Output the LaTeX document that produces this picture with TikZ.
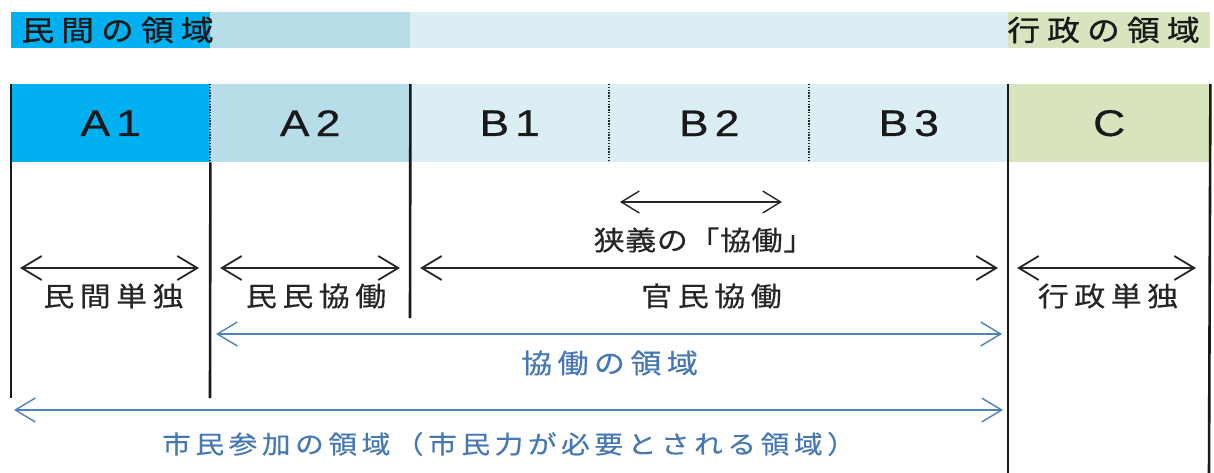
\documentclass[tikz,border=0pt]{standalone}
\usepackage{fontspec}
\setmainfont{Liberation Sans}
\newfontfamily\cellf[FakeStretch=1.2,FakeBold=0.6]{Liberation Sans}
\newfontfamily\jpl[FakeStretch=1.15,LetterSpace=20,FakeBold=0.4]{Noto Sans CJK JP}
\newfontfamily\jpt[FakeStretch=1.15,LetterSpace=25,FakeBold=1]{Noto Sans CJK JP}
\newfontfamily\jpb[FakeStretch=1.15,LetterSpace=18,FakeBold=0.4]{Noto Sans CJK JP}
\newfontfamily\jpn[FakeStretch=1.15,LetterSpace=2,FakeBold=0.4]{Noto Sans CJK JP}
\usetikzlibrary{arrows.meta}
\definecolor{cA}{RGB}{0,176,240}
\definecolor{cAA}{RGB}{183,221,232}
\definecolor{cB}{RGB}{218,238,243}
\definecolor{cC}{RGB}{215,228,189}
\definecolor{lb}{RGB}{79,129,189}
\definecolor{tb}{RGB}{70,120,180}
\tikzset{
  band/.style={draw=none,inner sep=0pt,anchor=north west},
  cell/.style={draw=none,inner sep=0pt,anchor=north west,minimum height=78pt,
     font=\cellf\fontsize{37}{40}\selectfont,text=black!90},
  vline/.style={line width=2.6pt,black!90},
  dotline/.style={line width=2pt,black!85,dash pattern=on 1.4pt off 1.4pt},
  darr/.style={line width=1.8pt,black!85,
     {Straight Barb[length=20pt,width=24pt,line width=1.8pt]}-{Straight Barb[length=20pt,width=24pt,line width=1.8pt]}},
  barr/.style={line width=1.4pt,lb,
     {Straight Barb[length=20pt,width=24pt,line width=1.4pt]}-{Straight Barb[length=20pt,width=24pt,line width=1.4pt]}},
  jlab/.style={font=\jpl\fontsize{27}{30}\selectfont,text=black!85,inner sep=0pt},
  tlab/.style={font=\jpt\fontsize{28.5}{30}\selectfont,text=black!90,inner sep=0pt},
  blab/.style={font=\jpb\fontsize{25}{28}\selectfont,text=tb,inner sep=0pt},
}
\begin{document}
\begin{tikzpicture}[x=1pt,y=-1pt]
\useasboundingbox (0,0) rectangle (1214,473);
% top band
\node[band,fill=cA,minimum width=199pt,minimum height=36pt] (t1) at (11,12) {};
\node[band,fill=cAA,minimum width=200pt,minimum height=36pt] (t2) at (210,12) {};
\node[band,fill=cB,minimum width=598pt,minimum height=36pt] (t3) at (410,12) {};
\node[band,fill=cC,minimum width=202pt,minimum height=36pt] (t4) at (1008,12) {};
\node[tlab] (priv) at (117.5,30) {民間の領域};
\node[tlab] (gov) at (1103.5,30) {行政の領域};
% cells
\node[cell,fill=cA,minimum width=199pt] (A1) at (11,84) {A\,1};
\node[cell,fill=cAA,minimum width=200pt] (A2) at (210,84) {A\,2};
\node[cell,fill=cB,minimum width=199pt] (B1) at (410,84) {B\,1};
\node[cell,fill=cB,minimum width=200pt] (B2) at (609,84) {B\,2};
\node[cell,fill=cB,minimum width=199pt] (B3) at (809,84) {B\,3};
\node[cell,fill=cC,minimum width=202pt] (C) at (1008,84) {C};
% dotted separators
\draw[dotline] (A1.north east) -- (A1.south east);
\draw[dotline] (B1.north east) -- (B1.south east);
\draw[dotline] (B2.north east) -- (B2.south east);
% solid verticals
\coordinate (v0b) at (11,398);
\coordinate (v1b) at (210,398);
\coordinate (v2b) at (410,318);
\coordinate (v3b) at (1008,473);
\coordinate (v4b) at (1209,473);
\draw[vline] (A1.north west) -- (v0b);
\draw[vline] (A1.south east) -- (v1b);
\draw[vline] (A2.north east) -- (v2b);
\draw[vline] (C.north west) -- (v3b);
\draw[vline] (C.north east) -- (v4b);
% black arrows
\coordinate (a1l) at (20,268); \coordinate (a1r) at (199,268);
\coordinate (a2l) at (220,268); \coordinate (a2r) at (400,268);
\coordinate (a3l) at (420,268); \coordinate (a3r) at (998,268);
\coordinate (a4l) at (1017,268); \coordinate (a4r) at (1196,268);
\coordinate (a5l) at (620,202); \coordinate (a5r) at (782,202);
\draw[darr] (a1l) -- (a1r);
\draw[darr] (a2l) -- (a2r);
\draw[darr] (a3l) -- (a3r);
\draw[darr] (a4l) -- (a4r);
\draw[darr,line width=1.4pt,{Straight Barb[length=18pt,width=22pt,line width=1.4pt]}-{Straight Barb[length=18pt,width=22pt,line width=1.4pt]}] (a5l) -- (a5r);
\node[jlab] (l1) at (113.5,296) {民間単独};
\node[jlab] (l2) at (316,296) {民民協働};
\node[jlab] (l3) at (711.5,296) {官民協働};
\node[jlab] (l4) at (1108,296) {行政単独};
\node[jlab,font=\jpn\fontsize{27}{30}\selectfont] (l5) at (704,240) {狭義の「協働」};
% blue arrows
\coordinate (b1l) at (216,334); \coordinate (b1r) at (1002,334);
\coordinate (b2l) at (14,410); \coordinate (b2r) at (1003,410);
\draw[barr] (b1l) -- (b1r);
\draw[barr] (b2l) -- (b2r);
\node[blab,font=\jpl\fontsize{27}{30}\selectfont] (k1) at (609.5,363) {協働の領域};
\node[blab] (k2) at (509,444) {市民参加の領域（市民力が必要とされる領域）};
\end{tikzpicture}
\end{document}
